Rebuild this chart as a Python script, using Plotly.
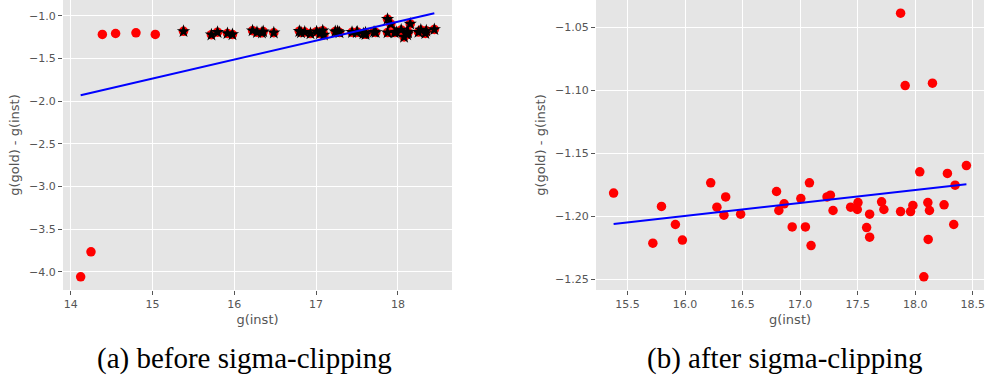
import numpy as np
import plotly.graph_objects as go

# Clipped (kept) data set
x_clip = [15.379, 15.720, 15.795, 15.916, 15.977, 16.223, 16.277, 16.338, 16.353, 16.483,
          16.795, 16.815, 16.861, 16.931, 17.006, 17.046, 17.081, 17.095, 17.234, 17.263,
          17.286, 17.439, 17.497, 17.503, 17.578, 17.604, 17.604, 17.708, 17.728, 17.873,
          17.873, 17.913, 17.960, 17.980, 18.040, 18.075, 18.110, 18.113, 18.124, 18.150,
          18.251, 18.280, 18.335, 18.347, 18.445]
y_clip = [-1.1817, -1.2214, -1.1923, -1.2066, -1.2190, -1.1735, -1.1929, -1.1992, -1.1847, -1.1984,
          -1.1804, -1.1955, -1.1902, -1.2085, -1.1860, -1.2085, -1.1735, -1.2233, -1.1847, -1.1833,
          -1.1955, -1.1929, -1.1947, -1.1892, -1.2090, -1.1984, -1.2167, -1.1886, -1.1947, -1.0389,
          -1.1963, -1.0963, -1.1963, -1.1915, -1.1648, -1.2481, -1.1892, -1.2185, -1.1955, -1.0944,
          -1.1910, -1.1661, -1.2066, -1.1754, -1.1598]

# Points removed by sigma-clipping
x_out = [14.122, 14.248, 14.387, 14.549, 14.798, 15.034]
y_out = [-4.059, -3.766, -1.218, -1.207, -1.199, -1.218]

# Linear fits (slope, intercept)
fit_before = (0.2224, -5.071)
fit_after = (0.01034, -1.3653)

x_ticks_a = [14, 15, 16, 17, 18]
y_ticks_a = [-4.0, -3.5, -3.0, -2.5, -2.0, -1.5, -1.0]
x_ticks_b = [15.5, 16.0, 16.5, 17.0, 17.5, 18.0, 18.5]
y_ticks_b = [-1.25, -1.20, -1.15, -1.10, -1.05]

captions = ["(a) before sigma-clipping", "(b) after sigma-clipping"]
x_title = "g(inst)"
y_title = "g(gold) - g(inst)"

x_all = x_out + x_clip
y_all = y_out + y_clip

W, H = 987, 379
BG = "#E5E5E5"
TXT = "#555555"

fig = go.Figure()

# Left panel
fig.add_trace(go.Scatter(x=x_all, y=y_all, mode="markers",
                         marker=dict(color="red", size=9.5, line=dict(width=0)),
                         xaxis="x", yaxis="y", showlegend=False))
fig.add_trace(go.Scatter(x=x_clip, y=y_clip, mode="markers",
                         marker=dict(color="black", size=10, symbol="star", line=dict(width=0)),
                         xaxis="x", yaxis="y", showlegend=False))
xa = np.sort(np.array(x_all))
fig.add_trace(go.Scatter(x=xa, y=fit_before[0] * xa + fit_before[1], mode="lines",
                         line=dict(color="blue", width=2),
                         xaxis="x", yaxis="y", showlegend=False))

# Right panel
fig.add_trace(go.Scatter(x=x_clip, y=y_clip, mode="markers",
                         marker=dict(color="red", size=9.5, line=dict(width=0)),
                         xaxis="x2", yaxis="y2", showlegend=False))
xb = np.sort(np.array(x_clip))
fig.add_trace(go.Scatter(x=xb, y=fit_after[0] * xb + fit_after[1], mode="lines",
                         line=dict(color="blue", width=2),
                         xaxis="x2", yaxis="y2", showlegend=False))

def px_x(p):
    return p / W

def px_y(p):
    return 1 - p / H

axis_common = dict(showgrid=True, gridcolor="white", gridwidth=1, zeroline=False,
                   showline=False, ticks="outside", ticklen=4, tickcolor=TXT,
                   tickfont=dict(family="DejaVu Sans", size=11, color=TXT),
                   title_font=dict(family="DejaVu Sans", size=13, color=TXT))

ydom = [px_y(290), px_y(0)]

fig.update_layout(
    width=W, height=H,
    margin=dict(l=0, r=0, t=0, b=0),
    paper_bgcolor="white",
    plot_bgcolor=BG,
    xaxis=dict(domain=[px_x(63), px_x(452)], range=[13.906, 18.661],
               tickvals=x_ticks_a, ticktext=[str(v) for v in x_ticks_a],
               anchor="y", title=dict(text=x_title, standoff=4), **axis_common),
    yaxis=dict(domain=ydom, range=[-4.2135, -0.8145], tickvals=y_ticks_a,
               tickformat=".1f", anchor="x", title=dict(text=y_title, standoff=6),
               **axis_common),
    xaxis2=dict(domain=[px_x(596), px_x(984)], range=[15.226, 18.598],
                tickvals=x_ticks_b, tickformat=".1f",
                anchor="y2", title=dict(text=x_title, standoff=4), **axis_common),
    yaxis2=dict(domain=ydom, range=[-1.2586, -1.0284], tickvals=y_ticks_b,
                tickformat=".2f", anchor="x2", title=dict(text=y_title, standoff=6),
                **axis_common),
)

for cap, cx in zip(captions, [244.5, 784]):
    fig.add_annotation(text=cap, x=px_x(cx), y=px_y(358), xref="paper", yref="paper",
                       showarrow=False, xanchor="center", yanchor="middle",
                       font=dict(family="Liberation Serif", size=29, color="black"))

fig.write_html("out.html")
